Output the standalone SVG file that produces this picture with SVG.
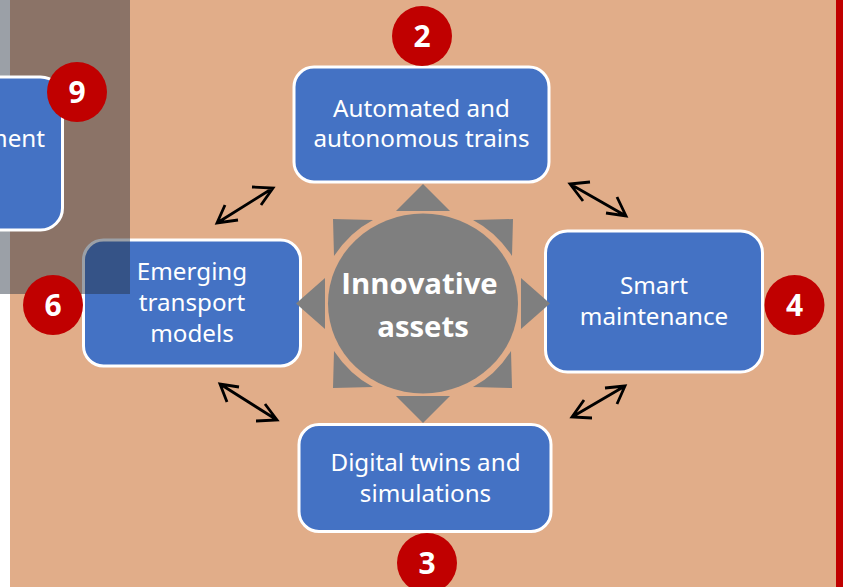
<svg xmlns="http://www.w3.org/2000/svg" width="843" height="587" viewBox="0 0 843 587">
<defs>
<style>
.bx{fill:#4472c4;stroke:#fff;stroke-width:3}
.t{font-family:"Noto Sans","Open Sans","Liberation Sans",sans-serif;font-size:24.2px;fill:#fff;text-anchor:middle}
.b{font-family:"Open Sans","Noto Sans","Liberation Sans",sans-serif;font-weight:700;fill:#fff;text-anchor:middle}
.n{font-size:30px}
.c{fill:#c00000}
.ray{fill:#7f7f7f}
.ar{fill:none;stroke:#000;stroke-width:2.8}
</style>
</defs>
<rect width="843" height="587" fill="#fff"/>
<rect x="10" y="0" width="826" height="587" fill="#e1ad89"/>
<rect x="836" y="0" width="7" height="587" fill="#c00000"/>
<g id="node-emerging">
<rect class="bx" x="83.500" y="240" width="217" height="126" rx="20"/>
<text class="t"><tspan x="192" y="280">Emerging</tspan><tspan x="192" y="311">transport</tspan><tspan x="192" y="342">models</tspan></text>
</g>
<rect id="overlay" x="0" y="0" width="130" height="294" fill="#26303f" fill-opacity="0.46"/>
<g id="node-ment">
<rect class="bx" x="-60" y="77" width="122.500" height="153" rx="22"/>
<text class="t" x="45" y="147" style="text-anchor:end">ment</text>
</g>
<g id="node-automated">
<rect class="bx" x="294" y="67" width="255" height="115" rx="20"/>
<text class="t"><tspan x="421.500" y="117">Automated and</tspan><tspan x="421.500" y="147">autonomous trains</tspan></text>
</g>
<g id="node-smart">
<rect class="bx" x="545.500" y="231" width="217" height="141" rx="22"/>
<text class="t"><tspan x="654" y="294">Smart</tspan><tspan x="654" y="325">maintenance</tspan></text>
</g>
<g id="node-digital">
<rect class="bx" x="299" y="424.500" width="252" height="107" rx="20"/>
<text class="t"><tspan x="425.500" y="471">Digital twins and</tspan><tspan x="425.500" y="502">simulations</tspan></text>
</g>
<g id="node-center">
<circle class="ray" cx="423" cy="303.500" r="95" transform="translate(423 303.500) scale(1 .947) translate(-423 -303.500)"/>
<polygon class="ray" points="423,184 396,211 450,211"/>
<polygon class="ray" points="423,423 396,396 450,396"/>
<polygon class="ray" points="296,303.500 325,278 325,329"/>
<polygon class="ray" points="550,303.500 521,278 521,329"/>
<path class="ray" d="M333,219 L373,220 Q350,232 334,256 Z"/>
<path class="ray" d="M513,219 L473,220 Q496,232 512,256 Z"/>
<path class="ray" d="M333,388 L373,387 Q350,375 334,351 Z"/>
<path class="ray" d="M512,388 L473,387 Q496,375 511,351 Z"/>
<text class="b" font-size="29.300"><tspan x="419.500" y="294">Innovative</tspan><tspan x="423" y="337">assets</tspan></text>
</g>
<g id="badge-9"><circle class="c" cx="77" cy="92" r="30"/><text class="b n" x="77" y="103">9</text></g>
<g id="badge-2"><circle class="c" cx="422" cy="36" r="30"/><text class="b n" x="422" y="47">2</text></g>
<g id="badge-6"><circle class="c" cx="53" cy="305" r="30"/><text class="b n" x="53" y="316">6</text></g>
<g id="badge-4"><circle class="c" cx="794.500" cy="305" r="30"/><text class="b n" x="794.500" y="316">4</text></g>
<g id="badge-3"><circle class="c" cx="427" cy="563" r="30"/><text class="b n" x="427" y="574">3</text></g>
<g id="connectors">
<path class="ar" d="M217,223 L273,188 M252,187 L273,188 L261,205 M225,205 L217,223 L238,220"/>
<path class="ar" d="M570,184 L626,216 M590,182 L570,184 L583,201 M606,213 L626,216 L617,197"/>
<path class="ar" d="M572,417 L625,386 M605,388 L625,386 L617,404 M584,400 L572,417 L592,418"/>
<path class="ar" d="M220,384 L277,420 M239,387 L220,384 L227,402 M265,404 L277,420 L256,421"/>
</g>
</svg>
